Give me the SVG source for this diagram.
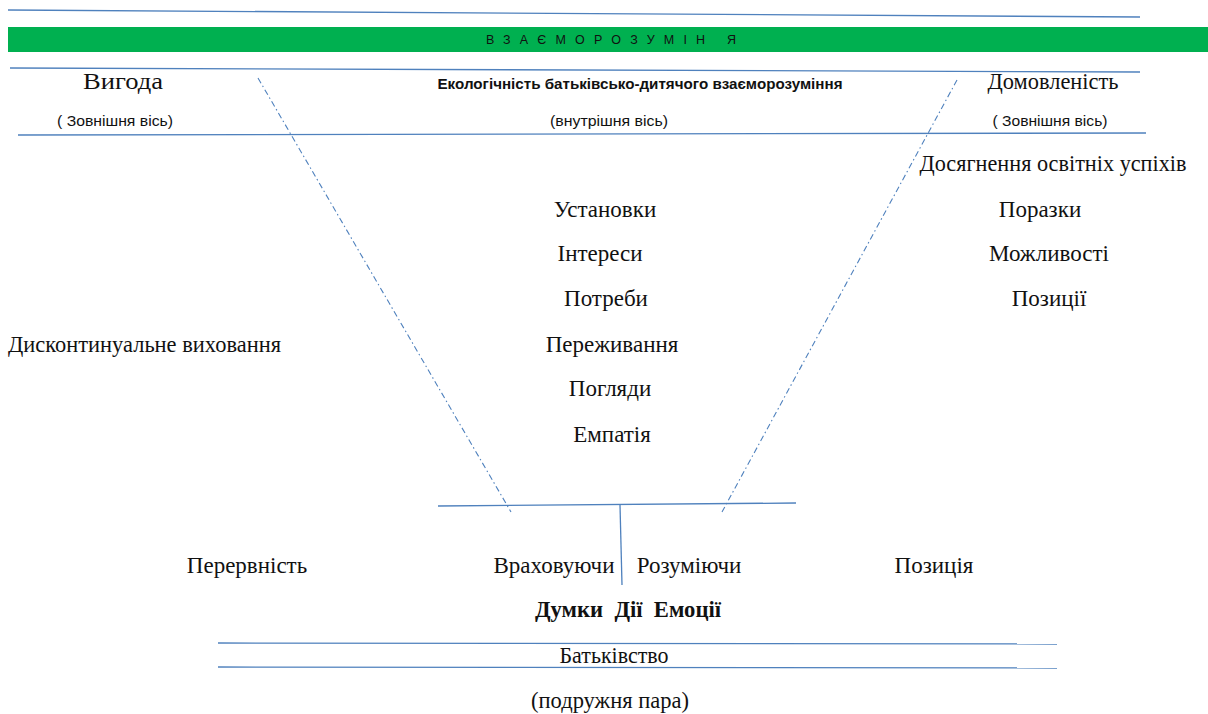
<svg xmlns="http://www.w3.org/2000/svg" width="1208" height="714" viewBox="0 0 1208 714">
<style>
.ln{stroke:#4f81bd;stroke-width:1.3;fill:none}
.ds{stroke:#4f81bd;stroke-width:1.1;fill:none;stroke-dasharray:6 3 1.5 3}
.s{font-family:"Liberation Serif","Times New Roman",serif;font-size:23px;fill:#111;text-anchor:middle}
.a{font-family:"Liberation Sans",Arial,sans-serif;font-size:14px;fill:#111;text-anchor:middle}
.st{text-anchor:start}
</style>
<rect width="1208" height="714" fill="#fff"/>
<g id="connectors">
<line class="ln" x1="8" y1="10" x2="1140" y2="17"/>
<line class="ln" x1="10" y1="68" x2="1140" y2="72"/>
<line class="ln" x1="18" y1="135" x2="1146" y2="133"/>
<line class="ds" x1="258" y1="78" x2="511" y2="512"/>
<line class="ds" x1="957" y1="80" x2="722" y2="512"/>
<line class="ln" x1="438" y1="506" x2="796" y2="503"/>
<line class="ln" x1="620" y1="505" x2="622" y2="585"/>
<line class="ln" x1="218" y1="643" x2="1057" y2="644"/>
<line class="ln" x1="218" y1="667" x2="1057" y2="668"/>
</g>
<g id="banner">
<rect x="8" y="27" width="1200" height="25" fill="#00b050"/>
<text x="486" y="44" font-family="Liberation Sans,Arial,sans-serif" font-size="12.5" fill="#111" textLength="250" lengthAdjust="spacing">ВЗАЄМОРОЗУМІН Я</text>
</g>
<g id="header-left">
<text class="s" x="123" y="89" textLength="80" lengthAdjust="spacingAndGlyphs">Вигода</text>
<text class="a" x="115" y="126" textLength="116" lengthAdjust="spacingAndGlyphs">( Зовнішня вісь)</text>
</g>
<g id="header-center">
<text class="a" x="640" y="89" font-weight="bold" font-size="13" textLength="405" lengthAdjust="spacingAndGlyphs">Екологічність батьківсько-дитячого взаєморозуміння</text>
<text class="a" x="609" y="126" textLength="118" lengthAdjust="spacingAndGlyphs">(внутрішня вісь)</text>
</g>
<g id="header-right">
<text class="s" x="1053" y="89" textLength="131" lengthAdjust="spacingAndGlyphs">Домовленість</text>
<text class="a" x="1050" y="126" textLength="115" lengthAdjust="spacingAndGlyphs">( Зовнішня вісь)</text>
</g>
<g id="right-list">
<text class="s" x="1053" y="171" textLength="267" lengthAdjust="spacingAndGlyphs">Досягнення освітніх успіхів</text>
<text class="s" x="1040" y="217">Поразки</text>
<text class="s" x="1049" y="261">Можливості</text>
<text class="s" x="1049" y="306">Позиції</text>
</g>
<g id="center-list">
<text class="s" x="605" y="217">Установки</text>
<text class="s" x="600" y="261">Інтереси</text>
<text class="s" x="606" y="306">Потреби</text>
<text class="s" x="612" y="352">Переживання</text>
<text class="s" x="610" y="396">Погляди</text>
<text class="s" x="612" y="442">Емпатія</text>
</g>
<g id="left-label">
<text class="s st" x="8" y="352" textLength="273" lengthAdjust="spacingAndGlyphs">Дисконтинуальне виховання</text>
</g>
<g id="bottom-row">
<text class="s" x="247" y="573">Перервність</text>
<text class="s" x="554" y="573">Враховуючи</text>
<text class="s" x="689" y="573">Розуміючи</text>
<text class="s" x="934" y="573">Позиція</text>
<text class="s" x="628" y="617" font-weight="bold" xml:space="preserve" textLength="186" lengthAdjust="spacingAndGlyphs">Думки  Дії  Емоції</text>
</g>
<g id="base">
<text class="s" x="614" y="663" textLength="109" lengthAdjust="spacingAndGlyphs">Батьківство</text>
<text class="s" x="610" y="708" textLength="158" lengthAdjust="spacingAndGlyphs">(подружня пара)</text>
</g>
</svg>
